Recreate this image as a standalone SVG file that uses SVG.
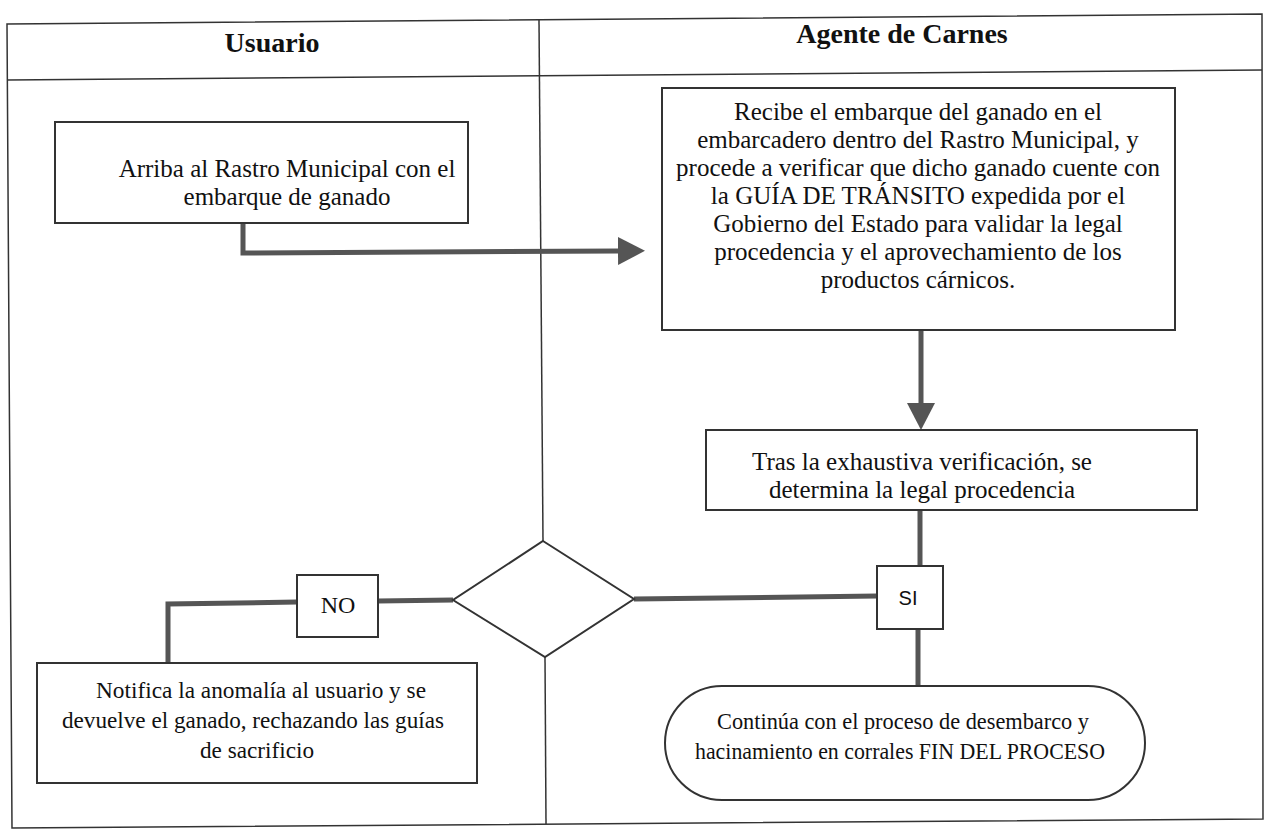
<svg xmlns="http://www.w3.org/2000/svg" width="1267" height="831" viewBox="0 0 1267 831">
  <style>
    .frame { fill: none; stroke: #333; stroke-width: 1.5; }
    .box { fill: #fff; stroke: #333; stroke-width: 2; }
    .flow { fill: none; stroke: #555; stroke-width: 5; }
    .txt { font-family: "Liberation Serif", "Times New Roman", serif; font-size: 25px; fill: #111; text-anchor: middle; }
    .small { font-size: 24px; }
    .head { font-family: "Liberation Serif", "Times New Roman", serif; font-size: 28px; font-weight: bold; fill: #111; text-anchor: middle; }
    .lbl { font-family: "Liberation Sans Narrow", "Liberation Sans", sans-serif; font-size: 20px; fill: #111; text-anchor: middle; }
  </style>
  <defs>
    <marker id="arrow" markerUnits="userSpaceOnUse" markerWidth="30" markerHeight="30" refX="0" refY="14" orient="auto">
      <path d="M0,0 L27,14 L0,28 Z" fill="#555"/>
    </marker>
  </defs>

  <rect width="1267" height="831" fill="#fff"/>

  <!-- swimlane frame -->
  <g id="lanes">
    <polygon class="frame" points="7,24 1262,14 1263,819 12,828"/>
    <line class="frame" x1="7" y1="80" x2="1262" y2="70"/>
    <line class="frame" x1="539" y1="20" x2="543" y2="541"/>
    <line class="frame" x1="545" y1="657" x2="546" y2="824"/>
    <text class="head" x="272" y="52">Usuario</text>
    <text class="head" x="902" y="43">Agente de Carnes</text>
  </g>

  <!-- connectors -->
  <g id="connectors">
    <polyline class="flow" points="243,223 243,253 618,251" marker-end="url(#arrow)"/>
    <line class="flow" x1="921" y1="330" x2="921" y2="403" marker-end="url(#arrow)"/>
    <line class="flow" x1="920" y1="510" x2="920" y2="565"/>
    <line class="flow" x1="634" y1="599" x2="877" y2="596"/>
    <line class="flow" x1="918" y1="630" x2="918" y2="687"/>
    <line class="flow" x1="453" y1="600" x2="378" y2="601"/>
    <polyline class="flow" points="297,602 168,604 168,663"/>
  </g>

  <g id="arriba">
    <rect class="box" x="55" y="122" width="413" height="101"/>
    <text class="txt" x="287" y="177">Arriba al Rastro Municipal con el</text>
    <text class="txt" x="287" y="205">embarque de ganado</text>
  </g>

  <g id="recibe">
    <rect class="box" x="662" y="88" width="513" height="242"/>
    <text class="txt" x="918" y="120">Recibe el embarque del ganado en el</text>
    <text class="txt" x="918" y="148">embarcadero dentro del Rastro Municipal, y</text>
    <text class="txt" x="918" y="176">procede a verificar que dicho ganado cuente con</text>
    <text class="txt" x="918" y="204">la GUÍA DE TRÁNSITO expedida por el</text>
    <text class="txt" x="918" y="232">Gobierno del Estado para validar la legal</text>
    <text class="txt" x="918" y="260">procedencia y el aprovechamiento de los</text>
    <text class="txt" x="918" y="288">productos cárnicos.</text>
  </g>

  <g id="verificacion">
    <rect class="box" x="706" y="430" width="491" height="80"/>
    <text class="txt" x="922" y="470">Tras la exhaustiva verificación, se</text>
    <text class="txt" x="922" y="498">determina la legal procedencia</text>
  </g>

  <g id="decision">
    <polygon class="box" points="543,541 634,599 545,657 453,600"/>
  </g>

  <g id="si">
    <rect class="box" x="877" y="566" width="66" height="63"/>
    <text class="lbl" x="908" y="605">SI</text>
  </g>

  <g id="no">
    <rect class="box" x="297" y="575" width="81" height="62"/>
    <text class="txt small" x="338" y="613">NO</text>
  </g>

  <g id="notifica">
    <rect class="box" x="37" y="663" width="440" height="120"/>
    <text class="txt small" x="261" y="698" textLength="330" lengthAdjust="spacingAndGlyphs">Notifica la anomalía al usuario y se</text>
    <text class="txt small" x="253" y="728" textLength="382" lengthAdjust="spacingAndGlyphs">devuelve el ganado, rechazando las guías</text>
    <text class="txt small" x="257" y="758" textLength="114" lengthAdjust="spacingAndGlyphs">de sacrificio</text>
  </g>

  <g id="fin">
    <rect class="box" x="665" y="686" width="480" height="114" rx="57" ry="57"/>
    <text class="txt small" x="903" y="729" textLength="372" lengthAdjust="spacingAndGlyphs">Continúa con el proceso de desembarco y</text>
    <text class="txt small" x="900" y="759" textLength="410" lengthAdjust="spacingAndGlyphs">hacinamiento en corrales FIN DEL PROCESO</text>
  </g>
</svg>
